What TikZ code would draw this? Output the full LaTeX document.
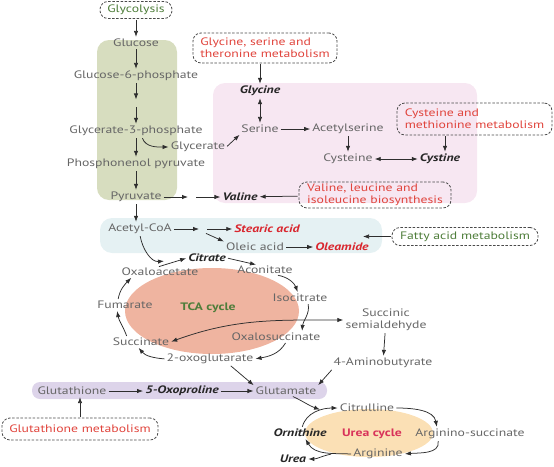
\documentclass[tikz,border=0pt]{standalone}
\usepackage{fontspec}
\setmainfont{PT Sans}[FakeStretch=1.27]
\usetikzlibrary{arrows.meta,calc,positioning}
\definecolor{txtgray}{HTML}{666666}
\definecolor{keyblack}{HTML}{262626}
\definecolor{hitred}{HTML}{D9262E}
\definecolor{pwred}{HTML}{E0443C}
\definecolor{pwgreen}{HTML}{4E7D3A}
\definecolor{ureared}{HTML}{D8325A}
\definecolor{arrgray}{HTML}{2E2E2E}
\definecolor{boxgray}{HTML}{4A4A4A}
\definecolor{bggreen}{HTML}{D7DDBF}
\definecolor{bgpink}{HTML}{F7E7F2}
\definecolor{bgblue}{HTML}{E5F1F3}
\definecolor{bgsalmon}{HTML}{EFB4A0}
\definecolor{bgpurple}{HTML}{DDD4EA}
\definecolor{bgorange}{HTML}{FBE0B5}

\begin{document}
\begin{tikzpicture}[x=1pt,y=-1pt,
    every node/.style={font=\fontsize{10.8}{12}\selectfont, text=txtgray, inner sep=1pt},
    key/.style={text=keyblack, font=\fontsize{10.8}{12}\selectfont\bfseries\itshape},
    hit/.style={text=hitred, font=\fontsize{10.8}{12}\selectfont\bfseries\itshape},
    pwaybox/.style={draw=boxgray, dash pattern=on 2.5pt off 1.6pt, line width=0.8pt,
      rounded corners=8pt, align=left, text=pwred},
    arr/.style={draw=arrgray, line width=0.75pt, shorten <=1pt, shorten >=1pt,
      -{Latex[length=6pt,width=4.4pt]}},
    arrs/.style={arr, {Latex[length=6pt,width=4.4pt]}-{Latex[length=6pt,width=4.4pt]}}]
  \useasboundingbox (0,0) rectangle (554,466);
  % coloured backgrounds
  \fill[bggreen, rounded corners=12pt] (97,40) rectangle (177,200);
  \fill[bgpink, rounded corners=12pt] (213,83) rectangle (477,203);
  \fill[bgblue, rounded corners=12pt] (100,218) rectangle (382,253);
  \fill[bgsalmon] (212,311) ellipse [x radius=87pt, y radius=43pt];
  \fill[bgpurple, rounded corners=8pt] (32,382) rectangle (327,399);
  \fill[bgorange] (369,433) ellipse [x radius=64pt, y radius=24pt];

  % pathway boxes
  \node[pwaybox, text=pwgreen, minimum width=72pt, minimum height=17pt] (glysrc) at (136,10) {Glycolysis};
  \node[pwaybox, minimum width=144pt, minimum height=30pt] (gsm) at (265,48) {Glycine, serine and\\theronine metabolism};
  \node[pwaybox, minimum width=155pt, minimum height=32pt] (cmm) at (474.5,119) {Cysteine and\\methionine metabolism};
  \node[pwaybox, minimum width=152pt, minimum height=26pt] (vlib) at (375,195) {Valine, leucine and\\isoleucine biosynthesis};
  \node[pwaybox, text=pwgreen, minimum width=146pt, minimum height=18pt] (fam) at (465,236.5) {Fatty acid metabolism};
  \node[pwaybox, minimum width=156pt, minimum height=22pt] (gtm) at (80,429) {Glutathione metabolism};

  % metabolites
  \node (glc) at (136,43) {Glucose};
  \node (g6p) at (136,76) {Glucose-6-phosphate};
  \node (g3p) at (136,131) {Glycerate-3-phosphate};
  \node (gla) at (198,147) {Glycerate};
  \node (pep) at (136,164) {Phosphonenol pyruvate};
  \node (pyr) at (136,197) {Pyruvate};
  \node[key] (gly) at (260,91) {Glycine};
  \node (ser) at (260,129) {Serine};
  \node (acs) at (348,129) {Acetylserine};
  \node (cys) at (348,159) {Cysteine};
  \node[key] (cyt) at (440,159) {Cystine};
  \node[key] (val) at (240,197) {Valine};
  \node (aco) at (140,229) {Acetyl-CoA};
  \node[hit] (ste) at (267,229) {Stearic acid};
  \node (ole) at (255,247) {Oleic acid};
  \node[hit] (olm) at (342,247) {Oleamide};
  \node[key] (cit) at (207,258) {Citrate};
  \node (oaa) at (160,272) {Oxaloacetate};
  \node (acn) at (265,270) {Aconitate};
  \node[text=pwgreen, font=\fontsize{10.8}{12}\selectfont\bfseries] (tca) at (208,308) {TCA cycle};
  \node (fum) at (125,305) {Fumarate};
  \node (ict) at (300,298) {Isocitrate};
  \node (suc) at (141,342) {Succinate};
  \node (oxs) at (276,337) {Oxalosuccinate};
  \node[align=center] (ssa) at (386,320) {Succinic\\semialdehyde};
  \node (okg) at (210,359) {2-oxoglutarate};
  \node (gab) at (383,363) {4-Aminobutyrate};
  \node (gsh) at (72,391) {Glutathione};
  \node[key] (opr) at (182,391) {5-Oxoproline};
  \node (glu) at (286,391) {Glutamate};
  \node (ctl) at (367,408) {Citrulline};
  \node (asa) at (470,434) {Arginino-succinate};
  \node (arg) at (378,454) {Arginine};
  \node[key] (orn) at (300,433) {Ornithine};
  \node[text=ureared, font=\fontsize{10.8}{12}\selectfont\bfseries] (urc) at (372,434) {Urea cycle};
  \node[key] (ure) at (293,459) {Urea};

  % glycolysis
  \draw[arr] (glysrc) -- (glc);
  \draw[arr] (glc) -- (g6p);
  \path (g6p) -- (g3p) coordinate[pos=0.5] (gg);
  \draw[arr] (g6p) -- ([yshift=3pt]gg);
  \draw[arr] ([yshift=-3pt]gg) -- (g3p);
  \draw[arr] (g3p) -- (pep);
  \draw[arr] ([xshift=6pt]g3p.south) to[out=-70,in=180] (gla.west);
  \draw[arr] (gla.east) -- (ser.south west);
  \draw[arr] (pep) -- (pyr);
  \path (pyr.east) -- (val.west) coordinate[pos=0.5] (pv);
  \draw[arr] (pyr.east) -- ([xshift=-3pt]pv);
  \draw[arr] ([xshift=3pt]pv) -- (val.west);
  \draw[arr] (pyr.south) -- (pyr.south |- aco.north);

  % amino acids
  \draw[arr] (gsm.south -| gly) -- (gly);
  \draw[arrs] (gly) -- (ser);
  \draw[arr] (ser) -- (acs);
  \draw[arr] (acs) -- (cys);
  \draw[arrs] (cys) -- (cyt);
  \draw[arr] ([xshift=5pt]cyt.north |- cmm.south) -- ([xshift=5pt]cyt.north);
  \draw[arr] (vlib) -- (val);

  % fatty acids
  \path (aco.east) -- (ste.west) coordinate[pos=0.5] (as);
  \draw[arr] (aco.east) -- ([xshift=-3pt]as);
  \draw[arr] ([xshift=3pt]as) -- (ste.west);
  \draw[arr] ([xshift=2pt,yshift=-4pt]as) -- (ole.north west);
  \draw[arr] (ole) -- (olm);
  \coordinate (fatin) at (362,236.5);
  \draw[arr] (fam) -- (fatin);

  % TCA cycle
  \coordinate (cin) at (165,261);
  \draw[arr] (aco.south) to[out=-80,in=185] (cin);
  \draw[arr] ([xshift=-2pt]oaa.north) -- (cit.west);
  \draw[arr] (cit.east) -- ([xshift=-8pt]acn.north);
  \draw[arr] ([xshift=12pt]acn.south) to[out=-10,in=110] ([xshift=-2pt]ict.north);
  \draw[arr] ([xshift=8pt]ict.south) to[out=-80,in=85] ([xshift=26pt]oxs.north);
  \draw[arr] ([xshift=10pt]oxs.south) to[out=-120,in=10] (okg.east);
  \draw[arr] (okg.west) to[out=175,in=-50] ([xshift=-3pt]suc.south);
  \draw[arr] ([xshift=-14pt]suc.north) to[out=110,in=-80] ([xshift=-8pt]fum.south);
  \draw[arr] ([xshift=-7pt]fum.north) to[out=80,in=-135] ([xshift=-28pt]oaa.south);
  \draw[arrs] (suc.east) to[out=20,in=180] (ssa.west);
  \draw[arr] (ssa) -- (gab);
  \draw[arr] (gab.south west) -- (glu.north east);
  \draw[arr] ([xshift=20pt]okg.south) -- (glu.north west);

  % glutathione
  \draw[arr] (gsh) -- (opr);
  \draw[arr] (opr) -- (glu);
  \draw[arr] (gtm.north) -- (gtm.north |- gsh.south);

  % urea cycle
  \coordinate (gin) at (321,410);
  \draw[arr] ([xshift=6pt]glu.south) to[out=-25,in=160] (gin);
  \draw[arr] ([xshift=2pt]orn.north) to[out=75,in=180] (ctl.west);
  \draw[arr] (ctl.east) to[out=0,in=100] ([xshift=-33pt]asa.north);
  \draw[arr] ([xshift=-32pt]asa.south) to[out=-80,in=5] (arg.east);
  \draw[arr] (arg.west) to[out=178,in=-60] ([xshift=5pt]orn.south);
  \draw[arr] ([xshift=-20pt]arg.west) to[out=190,in=0] (ure.east);
\end{tikzpicture}
\end{document}
